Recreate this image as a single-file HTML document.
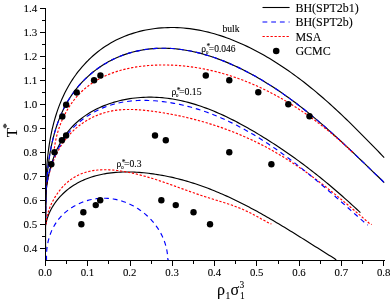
<!DOCTYPE html>
<html><head><meta charset="utf-8"><title>Phase diagram</title>
<style>
html,body{margin:0;padding:0;background:#fff;}
body{width:392px;height:303px;overflow:hidden;position:relative;font-family:"Liberation Serif",serif;}
</style></head><body>
<svg width="392" height="303" viewBox="0 0 392 303" style="position:absolute;left:0;top:0;will-change:transform">
<g fill="none" stroke-linecap="butt" stroke-linejoin="round">
<path d="M45.55,205.00L45.87,201.56L45.84,198.58L45.82,195.57L45.82,192.53L45.84,189.47L45.89,186.39L45.96,183.28L46.05,180.16L46.18,177.02L46.33,173.86L46.51,170.70L46.72,167.52L46.96,164.33L47.24,161.14L47.55,157.94L47.90,154.74L48.29,151.53L48.72,148.33L49.19,145.13L49.70,141.94L50.25,138.75L50.85,135.57L51.50,132.40L52.19,129.24L52.94,126.10L53.73,122.98L54.57,119.87L55.47,116.78L56.42,113.72L57.43,110.68L58.50,107.66L59.63,104.67L60.81,101.72L62.06,98.79L63.37,95.90L64.74,93.05L66.18,90.23L67.69,87.45L69.26,84.72L70.90,82.02L72.61,79.38L74.38,76.78L76.22,74.22L78.11,71.72L80.07,69.28L82.09,66.88L84.17,64.54L86.30,62.26L88.50,60.04L90.75,57.89L93.05,55.79L95.41,53.76L97.83,51.80L100.30,49.90L102.82,48.08L105.39,46.33L108.01,44.65L110.67,43.05L113.39,41.53L116.15,40.09L118.96,38.73L121.81,37.44L124.70,36.24L127.63,35.12L130.59,34.08L133.58,33.11L136.60,32.23L139.65,31.42L142.72,30.68L145.81,30.03L148.92,29.45L152.04,28.95L155.17,28.52L158.31,28.17L161.46,27.90L164.61,27.70L167.76,27.57L170.91,27.52L174.06,27.54L177.20,27.63L180.33,27.79L183.46,28.02L186.58,28.32L189.70,28.68L192.81,29.11L195.91,29.60L199.01,30.16L202.09,30.77L205.17,31.45L208.24,32.18L211.29,32.97L214.34,33.82L217.38,34.71L220.40,35.67L223.42,36.67L226.42,37.72L229.41,38.83L232.38,39.97L235.35,41.17L238.29,42.41L241.23,43.69L244.15,45.02L247.05,46.38L249.94,47.79L252.81,49.23L255.67,50.71L258.51,52.22L261.33,53.77L264.13,55.35L266.92,56.96L269.69,58.60L272.43,60.27L275.16,61.97L277.87,63.69L280.55,65.43L283.22,67.20L285.86,68.99L288.48,70.81L291.08,72.64L293.66,74.49L296.22,76.35L298.75,78.24L301.27,80.15L303.77,82.07L306.25,84.01L308.72,85.97L311.17,87.94L313.60,89.93L316.01,91.93L318.41,93.96L320.80,95.99L323.17,98.04L325.53,100.11L327.88,102.19L330.21,104.28L332.54,106.39L334.85,108.50L337.15,110.63L339.45,112.78L341.73,114.93L344.01,117.10L346.27,119.27L348.54,121.46L350.79,123.66L353.04,125.87L355.28,128.08L357.52,130.31L359.76,132.54L361.99,134.79L364.22,137.04L366.45,139.29L368.67,141.56L370.89,143.83L373.12,146.11L375.34,148.39L377.57,150.68L379.79,152.98L382.02,155.28L384.20,157.60" stroke="#000" stroke-width="1.15"/>
<path d="M45.55,220.00L45.85,216.55L45.84,213.60L45.84,210.62L45.86,207.61L45.89,204.57L45.94,201.50L46.00,198.41L46.09,195.30L46.20,192.17L46.34,189.03L46.49,185.87L46.68,182.69L46.90,179.51L47.14,176.32L47.42,173.12L47.73,169.91L48.08,166.71L48.47,163.51L48.90,160.30L49.37,157.11L49.88,153.92L50.43,150.74L51.04,147.57L51.69,144.41L52.39,141.27L53.14,138.14L53.95,135.04L54.81,131.96L55.73,128.90L56.71,125.87L57.75,122.86L58.85,119.89L60.01,116.95L61.24,114.05L62.54,111.18L63.91,108.35L65.34,105.56L66.86,102.81L68.44,100.12L70.10,97.46L71.84,94.86L73.66,92.31L75.54,89.82L77.51,87.38L79.54,84.99L81.64,82.67L83.80,80.41L86.03,78.21L88.33,76.08L90.68,74.01L93.10,72.01L95.57,70.09L98.10,68.24L100.68,66.46L103.31,64.76L105.99,63.14L108.72,61.60L111.50,60.14L114.32,58.77L117.18,57.48L120.08,56.27L123.01,55.15L125.97,54.11L128.96,53.16L131.97,52.30L135.00,51.51L138.05,50.82L141.11,50.20L144.18,49.67L147.25,49.23L150.33,48.87L153.41,48.59L156.50,48.39L159.58,48.27L162.67,48.23L165.77,48.26L168.86,48.37L171.95,48.55L175.04,48.79L178.13,49.11L181.22,49.50L184.31,49.95L187.39,50.47L190.47,51.05L193.54,51.69L196.61,52.39L199.67,53.15L202.73,53.97L205.78,54.84L208.82,55.76L211.85,56.74L214.87,57.77L217.88,58.85L220.88,59.97L223.87,61.14L226.85,62.36L229.81,63.61L232.76,64.91L235.70,66.25L238.62,67.63L241.53,69.05L244.42,70.50L247.29,71.98L250.15,73.49L252.98,75.04L255.80,76.61L258.60,78.22L261.38,79.84L264.14,81.50L266.87,83.17L269.59,84.87L272.28,86.58L274.94,88.32L277.59,90.07L280.21,91.84L282.81,93.63L285.40,95.44L287.96,97.26L290.50,99.10L293.03,100.96L295.53,102.83L298.02,104.72L300.50,106.62L302.96,108.54L305.40,110.47L307.83,112.42L310.25,114.38L312.65,116.36L315.04,118.35L317.42,120.35L319.79,122.37L322.15,124.40L324.49,126.44L326.83,128.49L329.17,130.56L331.49,132.63L333.81,134.72L336.12,136.82L338.43,138.92L340.73,141.04L343.02,143.17L345.32,145.31L347.61,147.45L349.90,149.61L352.19,151.77L354.48,153.94L356.76,156.12L359.05,158.31L361.34,160.50L363.63,162.70L365.93,164.91L368.23,167.12L370.53,169.34L372.84,171.57L375.15,173.80L377.47,176.03L379.79,178.27L382.13,180.52L384.20,182.70" stroke="#000" stroke-width="1.15"/>
<path d="M45.55,220.00L45.85,216.55L45.84,213.60L45.84,210.62L45.86,207.61L45.89,204.57L45.94,201.50L46.00,198.41L46.09,195.30L46.20,192.17L46.34,189.03L46.49,185.87L46.68,182.69L46.90,179.51L47.14,176.32L47.42,173.12L47.73,169.91L48.08,166.71L48.47,163.51L48.90,160.30L49.37,157.11L49.88,153.92L50.43,150.74L51.04,147.57L51.69,144.41L52.39,141.27L53.14,138.14L53.95,135.04L54.81,131.96L55.73,128.90L56.71,125.87L57.75,122.86L58.85,119.89L60.01,116.95L61.24,114.05L62.54,111.18L63.91,108.35L65.34,105.56L66.86,102.81L68.44,100.12L70.10,97.46L71.84,94.86L73.66,92.31L75.54,89.82L77.51,87.38L79.54,84.99L81.64,82.67L83.80,80.41L86.03,78.21L88.33,76.08L90.68,74.01L93.10,72.01L95.57,70.09L98.10,68.24L100.68,66.46L103.31,64.76L105.99,63.14L108.72,61.60L111.50,60.14L114.32,58.77L117.18,57.48L120.08,56.27L123.01,55.15L125.97,54.11L128.96,53.16L131.97,52.30L135.00,51.51L138.05,50.82L141.11,50.20L144.18,49.67L147.25,49.23L150.33,48.87L153.41,48.59L156.50,48.39L159.58,48.27L162.67,48.23L165.77,48.26L168.86,48.37L171.95,48.55L175.04,48.79L178.13,49.11L181.22,49.50L184.31,49.95L187.39,50.47L190.47,51.05L193.54,51.69L196.61,52.39L199.67,53.15L202.73,53.97L205.78,54.84L208.82,55.76L211.85,56.74L214.87,57.77L217.88,58.85L220.88,59.97L223.87,61.14L226.85,62.36L229.81,63.61L232.76,64.91L235.70,66.25L238.62,67.63L241.53,69.05L244.42,70.50L247.29,71.98L250.15,73.49L252.98,75.04L255.80,76.61L258.60,78.22L261.38,79.84L264.14,81.50L266.87,83.17L269.59,84.87L272.28,86.58L274.94,88.32L277.59,90.07L280.21,91.84L282.81,93.63L285.40,95.44L287.96,97.26L290.50,99.10L293.03,100.96L295.53,102.83L298.02,104.72L300.50,106.62L302.96,108.54L305.40,110.47L307.83,112.42L310.25,114.38L312.65,116.36L315.04,118.35L317.42,120.35L319.79,122.37L322.15,124.40L324.49,126.44L326.83,128.49L329.17,130.56L331.49,132.63L333.81,134.72L336.12,136.82L338.43,138.92L340.73,141.04L343.02,143.17L345.32,145.31L347.61,147.45L349.90,149.61L352.19,151.77L354.48,153.94L356.76,156.12L359.05,158.31L361.34,160.50L363.63,162.70L365.93,164.91L368.23,167.12L370.53,169.34L372.84,171.57L375.15,173.80L377.47,176.03L379.79,178.27L382.13,180.52L384.20,182.70" stroke="#0000ff" stroke-width="1.15" stroke-dasharray="4.8 3.9"/>
<path d="M53.20,152.30L54.08,150.61L54.37,148.18L54.72,145.76L55.12,143.36L55.57,140.96L56.08,138.59L56.64,136.23L57.25,133.89L57.92,131.57L58.64,129.27L59.41,127.00L60.23,124.75L61.09,122.53L62.01,120.33L62.98,118.17L64.00,116.03L65.06,113.93L66.18,111.86L67.33,109.83L68.54,107.83L69.79,105.87L71.09,103.96L72.43,102.08L73.82,100.25L75.25,98.46L76.73,96.72L78.25,95.02L79.81,93.38L81.41,91.78L83.06,90.24L84.75,88.75L86.47,87.31L88.24,85.93L90.04,84.60L91.88,83.31L93.75,82.08L95.66,80.90L97.60,79.76L99.58,78.68L101.58,77.64L103.61,76.64L105.67,75.70L107.76,74.79L109.87,73.94L112.01,73.12L114.17,72.35L116.35,71.63L118.56,70.94L120.78,70.29L123.02,69.69L125.28,69.13L127.56,68.60L129.85,68.11L132.16,67.66L134.47,67.25L136.80,66.88L139.14,66.54L141.49,66.23L143.85,65.96L146.21,65.73L148.58,65.52L150.95,65.35L153.33,65.21L155.71,65.11L158.08,65.03L160.46,64.98L162.84,64.96L165.21,64.97L167.58,65.01L169.95,65.07L172.31,65.16L174.66,65.28L177.01,65.42L179.36,65.59L181.70,65.79L184.03,66.01L186.36,66.26L188.68,66.53L190.99,66.82L193.30,67.15L195.61,67.49L197.91,67.86L200.20,68.26L202.49,68.68L204.77,69.12L207.04,69.58L209.31,70.07L211.57,70.59L213.83,71.12L216.08,71.68L218.32,72.26L220.56,72.86L222.79,73.49L225.01,74.13L227.23,74.80L229.44,75.49L231.64,76.20L233.84,76.93L236.03,77.68L238.21,78.45L240.39,79.25L242.55,80.06L244.72,80.89L246.87,81.74L249.02,82.61L251.16,83.51L253.29,84.41L255.42,85.34L257.54,86.29L259.65,87.25L261.75,88.24L263.84,89.24L265.93,90.26L268.01,91.29L270.09,92.35L272.15,93.42L274.21,94.50L276.25,95.61L278.30,96.73L280.33,97.86L282.35,99.02L284.37,100.18L286.38,101.37L288.38,102.57L290.37,103.78L292.35,105.01L294.33,106.25L296.29,107.51L298.25,108.78L300.20,110.07L302.14,111.37L304.07,112.68L305.99,114.01L307.91,115.34L309.81,116.70L311.71,118.06L313.60,119.44L315.47,120.83L317.34,122.23L319.20,123.65L321.05,125.07L322.89,126.51L324.72,127.95L326.55,129.41L328.36,130.88L330.16,132.36L331.96,133.85L333.74,135.35L335.51,136.86L337.28,138.38L339.03,139.91L340.78,141.45L342.51,143.00L344.24,144.56L345.95,146.12L347.66,147.69L349.35,149.28L351.03,150.87L352.90,152.30" stroke="#ff0000" stroke-width="1.15" stroke-dasharray="2.3 1.7"/>
<path d="M45.60,224.30L46.00,221.42L45.70,218.82L45.55,216.19L45.55,213.53L45.55,210.85L45.55,208.14L45.55,205.41L45.55,202.67L45.55,199.91L45.55,197.15L45.57,194.37L45.85,191.59L46.20,188.82L46.60,186.04L47.07,183.27L47.60,180.50L48.20,177.75L48.86,175.02L49.58,172.30L50.37,169.60L51.22,166.92L52.14,164.28L53.12,161.66L54.17,159.08L55.29,156.53L56.48,154.02L57.73,151.55L59.05,149.14L60.45,146.76L61.91,144.45L63.44,142.18L65.04,139.98L66.71,137.83L68.45,135.75L70.27,133.74L72.15,131.80L74.11,129.92L76.13,128.12L78.21,126.40L80.35,124.75L82.54,123.18L84.79,121.69L87.09,120.27L89.44,118.94L91.83,117.69L94.26,116.53L96.73,115.45L99.24,114.46L101.77,113.56L104.34,112.75L106.94,112.03L109.56,111.41L112.20,110.87L114.86,110.43L117.53,110.08L120.23,109.81L122.93,109.62L125.65,109.50L128.39,109.45L131.13,109.46L133.88,109.53L136.63,109.66L139.40,109.84L142.16,110.07L144.93,110.33L147.70,110.64L150.46,110.97L153.23,111.33L155.99,111.72L158.74,112.13L161.49,112.56L164.24,113.01L166.98,113.48L169.71,113.97L172.44,114.48L175.16,115.01L177.88,115.56L180.59,116.14L183.29,116.73L185.99,117.35L188.68,117.98L191.36,118.64L194.04,119.32L196.71,120.02L199.37,120.74L202.03,121.48L204.67,122.24L207.31,123.02L209.94,123.83L212.57,124.65L215.18,125.50L217.79,126.36L220.39,127.25L222.98,128.16L225.56,129.09L228.13,130.04L230.70,131.02L233.25,132.01L235.80,133.03L238.33,134.06L240.86,135.12L243.38,136.20L245.88,137.30L248.38,138.42L250.87,139.56L253.34,140.72L255.81,141.91L258.26,143.12L260.71,144.34L263.14,145.59L265.56,146.86L267.98,148.15L270.38,149.47L272.76,150.80L275.14,152.16L277.51,153.53L279.86,154.93L282.21,156.34L284.54,157.78L286.86,159.23L289.18,160.70L291.48,162.19L293.77,163.69L296.06,165.22L298.33,166.75L300.60,168.31L302.85,169.87L305.10,171.46L307.34,173.05L309.57,174.66L311.79,176.29L314.00,177.92L316.20,179.57L318.40,181.23L320.59,182.90L322.77,184.58L324.95,186.27L327.11,187.97L329.27,189.69L331.43,191.40L333.57,193.13L335.71,194.87L337.85,196.61L339.97,198.36L342.10,200.11L344.21,201.87L346.32,203.64L348.43,205.41L350.53,207.19L352.62,208.97L354.71,210.75L356.80,212.54L358.88,214.32L360.96,216.11L363.03,217.90L365.10,219.70L367.16,221.49L369.22,223.28L371.70,224.60" stroke="#ff0000" stroke-width="1.15" stroke-dasharray="2.3 1.7"/>
<path d="M45.55,215.00L45.61,212.20L45.55,209.73L45.55,207.21L45.55,204.66L45.55,202.07L45.59,199.46L45.72,196.82L45.90,194.17L46.14,191.49L46.42,188.80L46.75,186.10L47.14,183.39L47.57,180.68L48.06,177.96L48.60,175.25L49.20,172.55L49.85,169.86L50.56,167.18L51.33,164.52L52.15,161.88L53.03,159.26L53.97,156.67L54.96,154.11L56.02,151.59L57.14,149.11L58.32,146.67L59.57,144.27L60.87,141.92L62.24,139.63L63.68,137.39L65.18,135.21L66.74,133.09L68.38,131.04L70.07,129.05L71.83,127.13L73.64,125.26L75.51,123.46L77.44,121.72L79.42,120.05L81.45,118.43L83.53,116.88L85.66,115.39L87.83,113.96L90.05,112.59L92.31,111.28L94.61,110.03L96.95,108.84L99.32,107.71L101.73,106.64L104.16,105.63L106.63,104.67L109.13,103.78L111.65,102.94L114.20,102.16L116.77,101.44L119.36,100.77L121.97,100.17L124.60,99.62L127.24,99.12L129.89,98.68L132.56,98.30L135.23,97.97L137.91,97.70L140.60,97.48L143.29,97.32L145.98,97.21L148.67,97.16L151.35,97.16L154.03,97.21L156.71,97.32L159.38,97.48L162.04,97.69L164.69,97.95L167.34,98.26L169.98,98.62L172.61,99.03L175.23,99.48L177.85,99.97L180.45,100.51L183.05,101.10L185.64,101.72L188.23,102.39L190.80,103.09L193.37,103.84L195.92,104.62L198.47,105.44L201.01,106.29L203.54,107.18L206.07,108.10L208.58,109.06L211.08,110.04L213.58,111.05L216.06,112.10L218.54,113.17L221.01,114.27L223.47,115.39L225.91,116.54L228.35,117.71L230.78,118.91L233.20,120.12L235.61,121.36L238.01,122.62L240.40,123.89L242.77,125.18L245.14,126.49L247.50,127.82L249.85,129.15L252.18,130.50L254.51,131.86L256.82,133.24L259.13,134.62L261.42,136.01L263.70,137.41L265.98,138.83L268.24,140.25L270.49,141.68L272.73,143.12L274.97,144.57L277.19,146.02L279.40,147.49L281.61,148.97L283.81,150.46L285.99,151.96L288.17,153.47L290.34,154.99L292.51,156.51L294.66,158.05L296.81,159.60L298.95,161.16L301.08,162.73L303.20,164.31L305.32,165.89L307.43,167.49L309.53,169.10L311.63,170.72L313.72,172.35L315.81,173.99L317.89,175.64L319.96,177.30L322.03,178.97L324.09,180.66L326.15,182.35L328.20,184.05L330.25,185.77L332.29,187.49L334.33,189.22L336.37,190.97L338.40,192.73L340.43,194.49L342.45,196.27L344.47,198.06L346.48,199.86L348.50,201.67L350.51,203.50L352.52,205.33L354.52,207.17L356.52,209.03L358.53,210.89L360.40,212.60" stroke="#000" stroke-width="1.15"/>
<path d="M45.55,225.00L45.99,222.32L45.67,219.59L45.55,216.85L45.55,214.09L45.55,211.31L45.55,208.51L45.55,205.70L45.55,202.88L45.55,200.06L45.55,197.23L45.55,194.39L45.73,191.56L46.06,188.73L46.45,185.91L46.91,183.09L47.42,180.28L48.00,177.49L48.64,174.71L49.34,171.95L50.10,169.21L50.93,166.49L51.82,163.80L52.77,161.13L53.79,158.50L54.87,155.89L56.01,153.33L57.22,150.80L58.49,148.31L59.82,145.86L61.23,143.46L62.69,141.11L64.22,138.80L65.82,136.55L67.49,134.36L69.22,132.22L71.01,130.15L72.88,128.13L74.81,126.18L76.80,124.30L78.86,122.48L80.97,120.73L83.14,119.05L85.37,117.44L87.65,115.89L89.97,114.42L92.35,113.02L94.76,111.69L97.22,110.43L99.72,109.24L102.26,108.13L104.83,107.10L107.43,106.14L110.06,105.25L112.72,104.45L115.41,103.72L118.11,103.07L120.84,102.49L123.59,101.99L126.35,101.56L129.13,101.21L131.93,100.91L134.73,100.69L137.54,100.53L140.36,100.43L143.19,100.39L146.02,100.41L148.85,100.48L151.68,100.61L154.51,100.79L157.33,101.02L160.15,101.30L162.96,101.62L165.76,101.99L168.55,102.39L171.33,102.84L174.09,103.33L176.85,103.85L179.58,104.42L182.31,105.02L185.02,105.66L187.73,106.33L190.41,107.05L193.09,107.79L195.76,108.57L198.41,109.39L201.05,110.24L203.68,111.12L206.29,112.04L208.90,112.98L211.49,113.96L214.07,114.97L216.64,116.01L219.20,117.08L221.75,118.18L224.29,119.31L226.81,120.46L229.33,121.65L231.83,122.86L234.32,124.09L236.81,125.36L239.28,126.64L241.74,127.95L244.19,129.29L246.63,130.65L249.06,132.03L251.48,133.44L253.88,134.86L256.28,136.31L258.67,137.78L261.05,139.27L263.42,140.77L265.78,142.30L268.13,143.85L270.47,145.41L272.80,146.99L275.12,148.59L277.43,150.20L279.73,151.83L282.03,153.47L284.31,155.13L286.59,156.80L288.85,158.49L291.11,160.19L293.36,161.90L295.60,163.62L297.83,165.35L300.06,167.09L302.27,168.85L304.48,170.61L306.68,172.38L308.87,174.16L311.05,175.95L313.22,177.74L315.39,179.54L317.55,181.35L319.70,183.16L321.85,184.98L323.98,186.80L326.11,188.62L328.23,190.45L330.35,192.28L332.45,194.11L334.55,195.94L336.65,197.78L338.73,199.61L340.81,201.45L342.88,203.28L344.95,205.11L347.01,206.94L349.06,208.77L351.11,210.59L353.15,212.41L355.18,214.23L357.21,216.04L359.23,217.84L361.25,219.64L363.26,221.44L365.26,223.22L367.90,225.10" stroke="#0000ff" stroke-width="1.15" stroke-dasharray="4.8 3.9"/>
<path d="M45.55,250.00L45.94,248.08L45.55,245.67L45.55,243.26L45.55,240.86L45.55,238.47L45.55,236.09L45.55,233.72L45.55,231.38L45.55,229.05L45.55,226.75L45.70,224.48L46.20,222.23L46.78,220.01L47.46,217.83L48.21,215.69L49.06,213.58L49.98,211.51L50.99,209.49L52.08,207.52L53.24,205.59L54.47,203.71L55.77,201.88L57.13,200.10L58.56,198.37L60.05,196.69L61.59,195.07L63.18,193.50L64.82,191.99L66.51,190.53L68.24,189.14L70.01,187.81L71.82,186.53L73.66,185.32L75.54,184.17L77.44,183.08L79.38,182.05L81.35,181.07L83.34,180.15L85.36,179.29L87.41,178.48L89.49,177.72L91.58,177.01L93.70,176.36L95.85,175.75L98.01,175.20L100.19,174.69L102.39,174.23L104.61,173.81L106.84,173.44L109.09,173.11L111.35,172.83L113.62,172.59L115.91,172.39L118.20,172.22L120.51,172.10L122.82,172.02L125.14,171.97L127.46,171.96L129.79,171.98L132.12,172.03L134.46,172.12L136.79,172.24L139.12,172.39L141.46,172.57L143.79,172.78L146.11,173.02L148.44,173.28L150.75,173.56L153.06,173.88L155.36,174.21L157.65,174.57L159.93,174.95L162.21,175.35L164.47,175.78L166.72,176.22L168.97,176.69L171.21,177.17L173.44,177.68L175.66,178.21L177.87,178.75L180.07,179.32L182.27,179.91L184.46,180.51L186.64,181.13L188.81,181.77L190.97,182.43L193.13,183.11L195.28,183.81L197.42,184.52L199.56,185.25L201.69,185.99L203.81,186.76L205.93,187.53L208.03,188.33L210.14,189.14L212.23,189.96L214.32,190.80L216.41,191.66L218.48,192.53L220.55,193.41L222.62,194.31L224.68,195.22L226.74,196.14L228.79,197.07L230.83,198.02L232.87,198.98L234.90,199.96L236.93,200.94L238.96,201.94L240.98,202.95L242.99,203.96L245.00,204.99L247.01,206.03L249.01,207.08L251.01,208.14L253.00,209.21L254.99,210.28L256.98,211.37L258.96,212.47L260.94,213.57L262.92,214.68L264.89,215.80L266.86,216.92L268.83,218.06L270.80,219.20L272.76,220.34L274.72,221.50L276.67,222.66L278.63,223.82L280.58,224.99L282.53,226.17L284.48,227.35L286.42,228.53L288.37,229.72L290.31,230.91L292.25,232.11L294.19,233.31L296.13,234.51L298.06,235.71L300.00,236.92L301.94,238.13L303.87,239.34L305.80,240.56L307.74,241.77L309.67,242.99L311.60,244.21L313.53,245.42L315.47,246.64L317.40,247.86L319.33,249.07L321.26,250.29L323.20,251.50L325.13,252.72L327.07,253.93L329.00,255.14L330.94,256.35L332.87,257.56L334.81,258.76L336.40,260.30" stroke="#000" stroke-width="1.15"/>
<path d="M45.90,224.30L46.15,222.56L46.29,221.06L46.49,219.55L46.75,218.01L47.06,216.46L47.43,214.90L47.85,213.33L48.32,211.75L48.84,210.17L49.41,208.58L50.04,207.00L50.70,205.42L51.42,203.84L52.18,202.28L52.98,200.72L53.82,199.18L54.71,197.66L55.64,196.15L56.60,194.67L57.60,193.22L58.64,191.79L59.71,190.39L60.81,189.03L61.95,187.70L63.12,186.41L64.31,185.16L65.54,183.95L66.79,182.79L68.07,181.68L69.37,180.63L70.70,179.62L72.04,178.67L73.41,177.78L74.80,176.94L76.21,176.16L77.64,175.42L79.09,174.74L80.56,174.10L82.04,173.52L83.54,172.98L85.05,172.48L86.58,172.03L88.12,171.63L89.68,171.27L91.25,170.94L92.83,170.66L94.42,170.42L96.03,170.22L97.64,170.05L99.26,169.92L100.89,169.83L102.53,169.76L104.17,169.73L105.82,169.74L107.47,169.77L109.13,169.83L110.80,169.92L112.46,170.04L114.13,170.18L115.80,170.34L117.47,170.54L119.14,170.75L120.81,170.98L122.48,171.24L124.15,171.51L125.81,171.81L127.47,172.11L129.13,172.44L130.78,172.78L132.43,173.13L134.07,173.50L135.70,173.88L137.34,174.28L138.96,174.68L140.58,175.10L142.20,175.53L143.82,175.97L145.42,176.42L147.03,176.88L148.63,177.34L150.23,177.82L151.83,178.31L153.42,178.80L155.01,179.31L156.60,179.82L158.18,180.33L159.76,180.86L161.34,181.39L162.92,181.92L164.49,182.46L166.07,183.00L167.64,183.55L169.21,184.10L170.78,184.66L172.34,185.22L173.91,185.78L175.48,186.34L177.04,186.90L178.61,187.47L180.17,188.03L181.74,188.60L183.30,189.16L184.87,189.72L186.43,190.29L188.00,190.85L189.57,191.40L191.14,191.96L192.70,192.51L194.27,193.06L195.85,193.61L197.42,194.15L198.99,194.68L200.57,195.21L202.15,195.74L203.73,196.26L205.31,196.77L206.90,197.27L208.49,197.77L210.08,198.27L211.67,198.76L213.26,199.25L214.85,199.73L216.44,200.22L218.04,200.71L219.63,201.20L221.22,201.69L222.80,202.19L224.39,202.69L225.97,203.20L227.55,203.72L229.13,204.25L230.70,204.78L232.27,205.33L233.83,205.89L235.39,206.46L236.95,207.04L238.49,207.64L240.04,208.26L241.57,208.90L243.10,209.55L244.62,210.22L246.13,210.92L247.64,211.63L249.13,212.36L250.63,213.11L252.11,213.87L253.59,214.65L255.07,215.44L256.54,216.23L258.01,217.04L259.48,217.85L260.95,218.66L262.42,219.48L263.88,220.30L265.35,221.11L266.82,221.92L268.29,222.73L269.76,223.53L271.40,223.90" stroke="#ff0000" stroke-width="1.15" stroke-dasharray="2.3 1.7"/>
<path d="M46.00,260.30L46.55,259.31L46.51,258.05L46.49,256.79L46.49,255.53L46.52,254.27L46.56,253.01L46.64,251.76L46.73,250.51L46.85,249.26L46.99,248.02L47.15,246.78L47.34,245.54L47.55,244.32L47.79,243.10L48.05,241.88L48.33,240.68L48.63,239.48L48.96,238.29L49.31,237.11L49.68,235.94L50.08,234.77L50.50,233.62L50.95,232.49L51.41,231.36L51.90,230.25L52.42,229.14L52.95,228.06L53.52,226.98L54.10,225.92L54.71,224.88L55.34,223.85L55.99,222.84L56.67,221.84L57.37,220.87L58.09,219.91L58.84,218.97L59.61,218.04L60.40,217.14L61.21,216.25L62.04,215.38L62.90,214.54L63.77,213.71L64.66,212.90L65.57,212.11L66.50,211.34L67.45,210.59L68.41,209.86L69.39,209.15L70.38,208.46L71.39,207.79L72.42,207.14L73.45,206.52L74.51,205.91L75.57,205.33L76.65,204.77L77.74,204.23L78.84,203.71L79.95,203.21L81.07,202.74L82.20,202.29L83.34,201.86L84.48,201.45L85.64,201.07L86.80,200.71L87.97,200.37L89.15,200.06L90.33,199.77L91.52,199.51L92.71,199.27L93.90,199.05L95.10,198.86L96.30,198.69L97.50,198.55L98.71,198.43L99.92,198.34L101.12,198.27L102.33,198.23L103.54,198.21L104.74,198.22L105.95,198.26L107.15,198.32L108.35,198.40L109.55,198.51L110.75,198.65L111.94,198.81L113.13,198.99L114.31,199.19L115.50,199.42L116.67,199.68L117.85,199.95L119.02,200.25L120.18,200.57L121.34,200.91L122.49,201.28L123.63,201.67L124.77,202.07L125.90,202.50L127.02,202.95L128.14,203.43L129.24,203.92L130.34,204.43L131.43,204.96L132.51,205.51L133.58,206.09L134.65,206.68L135.70,207.29L136.74,207.92L137.77,208.57L138.79,209.23L139.79,209.92L140.79,210.62L141.77,211.34L142.74,212.08L143.70,212.83L144.64,213.60L145.58,214.39L146.49,215.20L147.39,216.02L148.28,216.85L149.15,217.71L150.01,218.57L150.85,219.46L151.68,220.36L152.49,221.27L153.28,222.20L154.06,223.14L154.82,224.10L155.56,225.07L156.28,226.05L156.98,227.05L157.67,228.06L158.33,229.08L158.98,230.12L159.61,231.16L160.21,232.22L160.80,233.30L161.37,234.38L161.91,235.47L162.43,236.58L162.93,237.70L163.41,238.83L163.87,239.96L164.30,241.11L164.71,242.27L165.10,243.44L165.46,244.62L165.80,245.80L166.12,247.00L166.40,248.20L166.67,249.42L166.91,250.64L167.12,251.87L167.30,253.11L167.46,254.35L167.60,255.60L167.70,256.86L167.78,258.13L167.83,259.40L168.60,260.30" stroke="#0000ff" stroke-width="1.15" stroke-dasharray="4.8 3.9"/>
</g>
<g fill="#000">
<circle cx="62.33" cy="116.54" r="3.2"/>
<circle cx="66.14" cy="104.78" r="3.2"/>
<circle cx="76.72" cy="92.54" r="3.2"/>
<circle cx="94.07" cy="80.30" r="3.2"/>
<circle cx="100.42" cy="75.50" r="3.2"/>
<circle cx="205.79" cy="75.50" r="3.2"/>
<circle cx="229.28" cy="80.30" r="3.2"/>
<circle cx="258.27" cy="92.30" r="3.2"/>
<circle cx="288.32" cy="104.30" r="3.2"/>
<circle cx="309.48" cy="116.30" r="3.2"/>
<circle cx="51.32" cy="164.30" r="3.2"/>
<circle cx="54.50" cy="152.30" r="3.2"/>
<circle cx="61.90" cy="140.30" r="3.2"/>
<circle cx="66.14" cy="135.50" r="3.2"/>
<circle cx="155.01" cy="135.50" r="3.2"/>
<circle cx="165.80" cy="140.30" r="3.2"/>
<circle cx="229.28" cy="152.30" r="3.2"/>
<circle cx="271.39" cy="164.30" r="3.2"/>
<circle cx="81.37" cy="224.30" r="3.2"/>
<circle cx="83.36" cy="212.30" r="3.2"/>
<circle cx="95.76" cy="205.10" r="3.2"/>
<circle cx="100.20" cy="200.30" r="3.2"/>
<circle cx="161.36" cy="200.30" r="3.2"/>
<circle cx="175.75" cy="205.10" r="3.2"/>
<circle cx="193.52" cy="212.30" r="3.2"/>
<circle cx="210.02" cy="224.30" r="3.2"/>
</g>
<g stroke="#000" stroke-width="1" fill="none" shape-rendering="crispEdges">
<line x1="45.5" y1="8" x2="45.5" y2="261"/>
<line x1="45" y1="260.5" x2="384.5" y2="260.5"/>
<line x1="40" y1="8.5" x2="45" y2="8.5"/>
<line x1="42" y1="20.5" x2="45" y2="20.5"/>
<line x1="40" y1="32.5" x2="45" y2="32.5"/>
<line x1="42" y1="44.5" x2="45" y2="44.5"/>
<line x1="40" y1="56.5" x2="45" y2="56.5"/>
<line x1="42" y1="68.5" x2="45" y2="68.5"/>
<line x1="40" y1="80.5" x2="45" y2="80.5"/>
<line x1="42" y1="92.5" x2="45" y2="92.5"/>
<line x1="40" y1="104.5" x2="45" y2="104.5"/>
<line x1="42" y1="116.5" x2="45" y2="116.5"/>
<line x1="40" y1="128.5" x2="45" y2="128.5"/>
<line x1="42" y1="140.5" x2="45" y2="140.5"/>
<line x1="40" y1="152.5" x2="45" y2="152.5"/>
<line x1="42" y1="164.5" x2="45" y2="164.5"/>
<line x1="40" y1="176.5" x2="45" y2="176.5"/>
<line x1="42" y1="188.5" x2="45" y2="188.5"/>
<line x1="40" y1="200.5" x2="45" y2="200.5"/>
<line x1="42" y1="212.5" x2="45" y2="212.5"/>
<line x1="40" y1="224.5" x2="45" y2="224.5"/>
<line x1="42" y1="236.5" x2="45" y2="236.5"/>
<line x1="40" y1="248.5" x2="45" y2="248.5"/>
<line x1="45.5" y1="261" x2="45.5" y2="266"/>
<line x1="66.5" y1="261" x2="66.5" y2="264"/>
<line x1="87.5" y1="261" x2="87.5" y2="266"/>
<line x1="108.5" y1="261" x2="108.5" y2="264"/>
<line x1="130.5" y1="261" x2="130.5" y2="266"/>
<line x1="151.5" y1="261" x2="151.5" y2="264"/>
<line x1="172.5" y1="261" x2="172.5" y2="266"/>
<line x1="193.5" y1="261" x2="193.5" y2="264"/>
<line x1="214.5" y1="261" x2="214.5" y2="266"/>
<line x1="235.5" y1="261" x2="235.5" y2="264"/>
<line x1="256.5" y1="261" x2="256.5" y2="266"/>
<line x1="278.5" y1="261" x2="278.5" y2="264"/>
<line x1="299.5" y1="261" x2="299.5" y2="266"/>
<line x1="320.5" y1="261" x2="320.5" y2="264"/>
<line x1="341.5" y1="261" x2="341.5" y2="266"/>
<line x1="362.5" y1="261" x2="362.5" y2="264"/>
<line x1="383.5" y1="261" x2="383.5" y2="266"/>
</g>
<g fill="none" stroke-width="1.1">
<line x1="262.5" y1="7.5" x2="289.6" y2="7.5" stroke="#000"/>
<line x1="262.5" y1="22" x2="289.6" y2="22" stroke="#0000ff" stroke-dasharray="4.8 3.9"/>
<line x1="262.5" y1="36.5" x2="289.6" y2="36.5" stroke="#ff0000" stroke-dasharray="2.3 1.7"/>
</g>
<circle cx="276.2" cy="51" r="3.3" fill="#000"/>
<g font-family="Liberation Serif, serif" fill="#000" stroke="#000" stroke-width="0.1">
<text x="37.2" y="11.6" font-size="11" text-anchor="end">1.4</text>
<text x="37.2" y="35.6" font-size="11" text-anchor="end">1.3</text>
<text x="37.2" y="59.5" font-size="11" text-anchor="end">1.2</text>
<text x="37.2" y="83.6" font-size="11" text-anchor="end">1.1</text>
<text x="37.2" y="107.5" font-size="11" text-anchor="end">1.0</text>
<text x="37.2" y="131.6" font-size="11" text-anchor="end">0.9</text>
<text x="37.2" y="155.6" font-size="11" text-anchor="end">0.8</text>
<text x="37.2" y="179.6" font-size="11" text-anchor="end">0.7</text>
<text x="37.2" y="203.6" font-size="11" text-anchor="end">0.6</text>
<text x="37.2" y="227.6" font-size="11" text-anchor="end">0.5</text>
<text x="37.2" y="251.6" font-size="11" text-anchor="end">0.4</text>
<text x="45.1" y="276.4" font-size="10.8" text-anchor="middle">0.0</text>
<text x="87.4" y="276.4" font-size="10.8" text-anchor="middle">0.1</text>
<text x="129.7" y="276.4" font-size="10.8" text-anchor="middle">0.2</text>
<text x="172.1" y="276.4" font-size="10.8" text-anchor="middle">0.3</text>
<text x="214.4" y="276.4" font-size="10.8" text-anchor="middle">0.4</text>
<text x="256.7" y="276.4" font-size="10.8" text-anchor="middle">0.5</text>
<text x="299.0" y="276.4" font-size="10.8" text-anchor="middle">0.6</text>
<text x="341.3" y="276.4" font-size="10.8" text-anchor="middle">0.7</text>
<text x="383.7" y="276.4" font-size="10.8" text-anchor="middle">0.8</text>
<text x="295.4" y="11.5" font-size="12">BH(SPT2b1)</text>
<text x="295.4" y="26.0" font-size="12">BH(SPT2b)</text>
<text x="295.4" y="40.5" font-size="12">MSA</text>
<text x="295.4" y="55.0" font-size="12">GCMC</text>
<text x="222.5" y="31.8" font-size="9.6">bulk</text>
<text x="201.2" y="51.6" font-size="9.5">ρ</text>
<text x="205.9" y="54.0" font-size="4.8">0</text>
<text x="206.5" y="49.4" font-size="7.5">*</text>
<text x="208.8" y="51.6" font-size="9.5">=0.046</text>
<text x="171.4" y="94.7" font-size="9.8">ρ</text>
<text x="176.1" y="97.1" font-size="4.8">0</text>
<text x="176.7" y="92.5" font-size="7.5">*</text>
<text x="179.0" y="94.7" font-size="9.8">=0.15</text>
<text x="116.5" y="166.9" font-size="9.6">ρ</text>
<text x="121.2" y="169.3" font-size="4.8">0</text>
<text x="121.8" y="164.7" font-size="7.5">*</text>
<text x="124.1" y="166.9" font-size="9.6">=0.3</text>
<text x="216.9" y="295" font-size="16">ρ</text>
<text x="225.6" y="299" font-size="9.5">1</text>
<text x="230.4" y="295" font-size="16">σ</text>
<text x="239.4" y="288.4" font-size="9.5">3</text>
<text x="240" y="299" font-size="9.5">1</text>
<text transform="translate(16.5,137.3) rotate(-90)" font-size="15">T<tspan font-size="11" dy="-6.6" dx="-0.6">*</tspan></text>
</g>
</svg>
</body></html>
